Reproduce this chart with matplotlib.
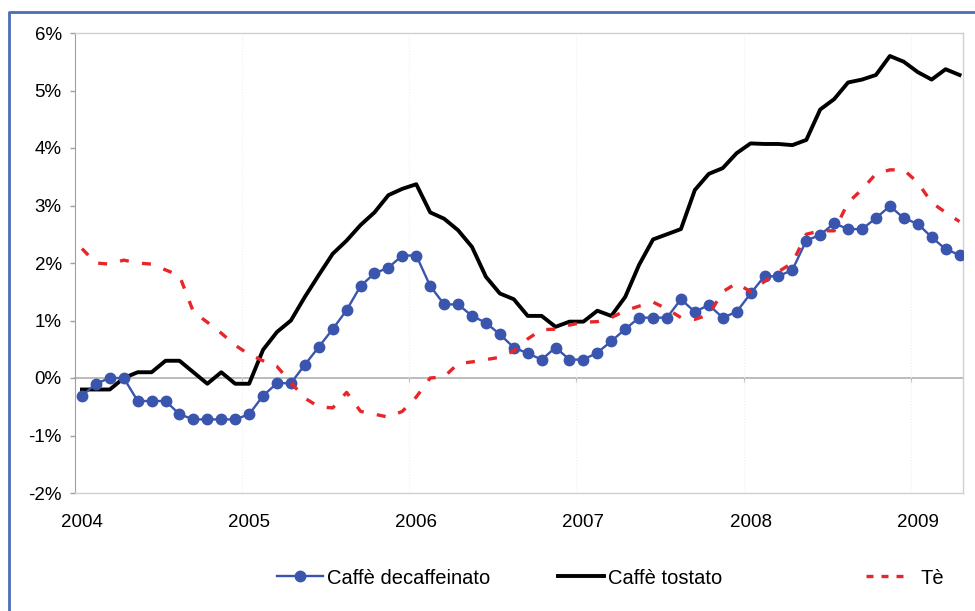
import numpy as np
import matplotlib
matplotlib.use('Agg')
import matplotlib.pyplot as plt
from matplotlib.lines import Line2D
from matplotlib.ticker import FuncFormatter, FixedLocator

plt.rcParams['font.family'] = ['Liberation Sans', 'DejaVu Sans']

# monthly year-on-year change (%), Jan 2004 - Apr 2009
years = ['2004', '2005', '2006', '2007', '2008', '2009']

decaf = [-0.31, -0.10, 0.00, 0.00, -0.40, -0.40, -0.40, -0.63, -0.72, -0.72, -0.72, -0.72,
         -0.63, -0.31, -0.09, -0.09, 0.23, 0.54, 0.85, 1.18, 1.60, 1.82, 1.92, 2.13,
         2.13, 1.60, 1.28, 1.28, 1.08, 0.96, 0.76, 0.53, 0.43, 0.32, 0.53, 0.32,
         0.32, 0.44, 0.64, 0.85, 1.05, 1.05, 1.05, 1.37, 1.15, 1.27, 1.05, 1.15,
         1.47, 1.77, 1.77, 1.88, 2.39, 2.49, 2.69, 2.59, 2.59, 2.78, 2.99, 2.78,
         2.68, 2.45, 2.24, 2.14]

tostato = [-0.20, -0.20, -0.20, 0.00, 0.10, 0.10, 0.30, 0.30, 0.10, -0.10, 0.10, -0.10,
           -0.10, 0.49, 0.80, 1.00, 1.41, 1.79, 2.16, 2.39, 2.66, 2.88, 3.18, 3.29,
           3.37, 2.88, 2.77, 2.57, 2.28, 1.76, 1.47, 1.37, 1.08, 1.08, 0.89, 0.98,
           0.98, 1.17, 1.08, 1.41, 1.97, 2.41, 2.50, 2.59, 3.27, 3.55, 3.65, 3.91,
           4.08, 4.07, 4.07, 4.05, 4.14, 4.67, 4.85, 5.14, 5.19, 5.27, 5.60, 5.50,
           5.32, 5.19, 5.37, 5.27]

te = [2.25, 2.00, 1.98, 2.05, 2.00, 1.98, 1.88, 1.78, 1.15, 0.97, 0.78, 0.57,
      0.41, 0.30, 0.20, -0.08, -0.35, -0.50, -0.52, -0.25, -0.58, -0.63, -0.68, -0.58,
      -0.33, 0.00, 0.02, 0.25, 0.28, 0.32, 0.36, 0.47, 0.68, 0.84, 0.85, 0.92,
      0.97, 0.98, 1.05, 1.17, 1.25, 1.32, 1.20, 1.05, 1.02, 1.10, 1.50, 1.65,
      1.50, 1.68, 1.85, 2.00, 2.50, 2.56, 2.56, 3.05, 3.28, 3.55, 3.62, 3.62,
      3.40, 3.05, 2.88, 2.72]

BLUE = '#3a55ad'
RED = '#e8262a'
W, H = 975, 611

months = np.arange(len(decaf))

fig = plt.figure(figsize=(W / 100, H / 100), dpi=100)
ax = fig.add_axes([75 / W, 1 - 493 / H, (963 - 75) / W, (493 - 33) / H])

l_decaf, = ax.plot(months, decaf, color=BLUE, lw=1.7, marker='o', ms=7.5,
                   label='Caffè decaffeinato', zorder=3)
l_tost, = ax.plot(months, tostato, color='black', lw=2.8, label='Caffè tostato', zorder=2)
l_te, = ax.plot(months, te, color=RED, lw=2.4, dashes=(2.7, 4.0),
                dash_capstyle='butt', label='Tè', zorder=4)

ax.set_ylim(-2, 6)
ax.set_yticks(range(-2, 7))
ax.yaxis.set_major_formatter(FuncFormatter(lambda v, p: f'{v:.0f}%'))
ax.set_xlim(-0.5, 63.25)
ax.set_xticks(range(0, len(decaf), 12), years)

# faint year separators
bounds = np.arange(11.5, len(decaf), 12)
ax.xaxis.set_minor_locator(FixedLocator(bounds))
ax.grid(which='minor', axis='x', color='#f0f0f0', ls=':', lw=0.8)

ax.tick_params(axis='x', which='both', length=0, pad=15, labelsize=13.5)
ax.tick_params(axis='y', length=3.6, width=1, color='#a0a0a0', pad=6, labelsize=13.5)

ax.spines['left'].set_color('#a0a0a0')
for s in ('top', 'right', 'bottom'):
    ax.spines[s].set_color('#d0d0d0')
    ax.spines[s].set_linewidth(1)

# category axis crossing at 0%
zero = ax.secondary_xaxis(0.25)
zero.set_xticks(np.concatenate([[-0.5], bounds]))
zero.tick_params(length=3, color='#a6a6a6', labelbottom=False)
zero.spines['bottom'].set_color('#b0b0b0')
zero.spines['bottom'].set_linewidth(1.2)

# legend entries spread along the bottom
leg_y = 1 - 578 / H
te_proxy = Line2D([], [], color=RED, lw=2.4, dashes=(2.1, 2.4), dash_capstyle='butt')
entries = [(l_decaf, 'Caffè decaffeinato', 277, 2.3, 0.2),
           (l_tost, 'Caffè tostato', 558, 2.3, 0.2),
           (te_proxy, 'Tè', 866, 1.85, 0.85)]
for h, lab, x0, hl, tp in entries:
    fig.legend(handles=[h], labels=[lab], loc='center left',
               bbox_to_anchor=(x0 / W, leg_y), frameon=False, fontsize=14.5,
               handlelength=hl, handletextpad=tp, borderpad=0, borderaxespad=0,
               numpoints=1)

# blue frame around the figure
fig.add_artist(Line2D([9 / W, 9 / W, 1], [0, 1 - 12 / H, 1 - 12 / H],
                      transform=fig.transFigure, color='#4a6eb5', lw=2))

fig.savefig('out.png', dpi=100)
